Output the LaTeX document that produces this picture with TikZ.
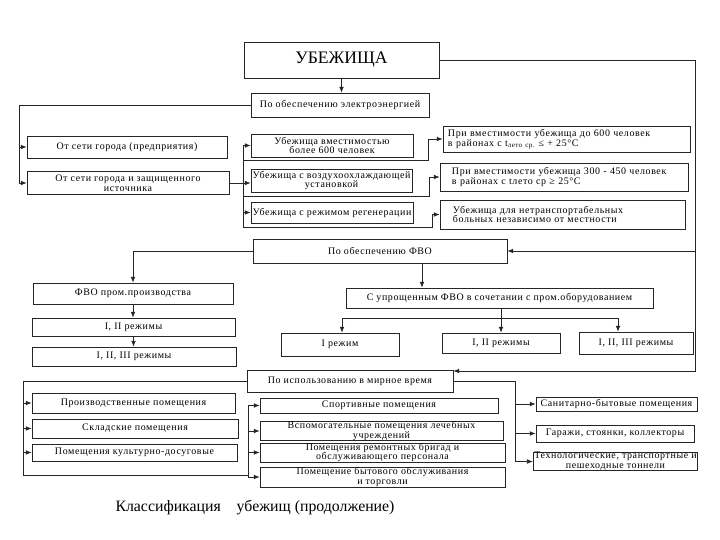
\documentclass[tikz,border=0pt]{standalone}
\usepackage{fontspec}
\setmainfont{Liberation Serif}
\newfontfamily\boxfont[LetterSpace=6]{Liberation Serif}
\usetikzlibrary{arrows.meta}

\tikzset{
  blk/.style={draw=black!85, line width=0.6pt, inner xsep=1pt, inner ysep=0pt, align=center,
    font=\boxfont\fontsize{8.5}{8.5}\selectfont},
  sz/.style 2 args={minimum width=#1*0.03cm, minimum height=#2*0.03cm},
  lnk/.style={draw=black!85, line width=0.6pt},
}

\begin{document}
\begin{tikzpicture}[x=0.03cm, y=-0.03cm, >={Latex[length=5pt,width=4pt]}]
\useasboundingbox (0,0) rectangle (720,540);

\node (ubezh) [blk,sz={195}{36},font=\fontsize{15}{18}\selectfont] at (341.5,60) {УБЕЖИЩА};
\node (elec) [blk,sz={178}{24}] at (340,105) {По обеспечению электроэнергией};
\node (gorod) [blk,sz={200}{22}] at (127,147) {От сети города (предприятия)};
\node (gorodz) [blk,sz={202}{23}] at (128,183) {От сети города и защищенного\\источника};
\node (vm600) [blk,sz={162}{23}] at (332,145.5) {Убежища вместимостью\\более 600 человек};
\node (vozd) [blk,sz={161}{23}] at (331.5,180.5) {Убежища с воздухоохлаждающей\\установкой};
\node (regen) [blk,sz={162}{21}] at (332,212.5) {Убежища с режимом регенерации};
\node (do600) [blk,sz={247}{26},align=left,text width=7.11cm] at (566.5,139) {При вместимости убежища до 600 человек\\в районах с t\textsubscript{лето ср.} ≤ + 25°C};
\node (t300) [blk,sz={248}{28},align=left,text width=6.72cm] at (564,177) {При вместимости убежища 300 - 450 человек\\в районах с tлето ср ≥ 25°C};
\node (netr) [blk,sz={245}{29},align=left,text width=6.57cm] at (562.5,214.5) {Убежища для нетранспортабельных\\больных независимо от местности};

\node (fvo) [blk,sz={254}{24}] at (380,251) {По обеспечению ФВО};
\node (prom) [blk,sz={200}{21}] at (133,293.5) {ФВО пром.производства};
\node (rl2) [blk,sz={203}{18}] at (133.5,327) {I, II режимы};
\node (rl3) [blk,sz={204}{19}] at (134,356.5) {I, II, III режимы};
\node (upr) [blk,sz={307}{20}] at (499.5,298) {С упрощенным ФВО в сочетании с пром.оборудованием};
\node (r1) [blk,sz={118}{23}] at (340,344.5) {I режим};
\node (r2) [blk,sz={118}{20}] at (501,343) {I, II режимы};
\node (r3) [blk,sz={114}{22}] at (636,343) {I, II, III режимы};

\node (mir) [blk,sz={206}{22}] at (350,381) {По использованию в мирное время};
\node (proizv) [blk,sz={203}{20}] at (133.5,403) {Производственные помещения};
\node (sklad) [blk,sz={206}{19}] at (135,428.5) {Складские помещения};
\node (kult) [blk,sz={205}{17}] at (134.5,452.5) {Помещения культурно-досуговые};
\node (sport) [blk,sz={238}{15}] at (379,405.5) {Спортивные помещения};
\node (vspom) [blk,sz={243}{18}] at (381.5,431) {Вспомогательные помещения лечебных\\учреждений};
\node (remont) [blk,sz={245}{19}] at (382.5,452.5) {Помещения ремонтных бригад и\\обслуживающего персонала};
\node (byt) [blk,sz={245}{20}] at (382.5,477) {Помещение бытового обслуживания\\и торговли};
\node (sanit) [blk,sz={161}{14}] at (616.5,404) {Санитарно-бытовые помещения};
\node (garazh) [blk,sz={158}{17}] at (615,433.5) {Гаражи, стоянки, коллекторы};
\node (tonn) [blk,sz={159}{17}] at (615.5,461.5) {Технологические, транспортные и\\пешеходные тоннели};

\node (cap) [font=\fontsize{13.5}{16}\selectfont] at (255,508) {Классификация\quad убежищ (продолжение)};

% outer loop on the right
\coordinate (rb) at (695,371);
\coordinate (rf) at (695,251);
\draw [lnk,->] (ubezh.south) -- (ubezh.south |- elec.north);
\draw [lnk,->] (ubezh.east) -| (rb) -- (rb -| mir.east);
\draw [lnk,->] (rf) -- (fvo.east);

% power supply
\coordinate (l1) at (19,183);
\draw [lnk] (elec.west) -| (l1);
\draw [lnk,->] (l1 |- gorod) -- (gorod);
\draw [lnk,->] (l1) -- (gorodz);
\draw [lnk,->] (gorodz.east) -- (gorodz.east -| vozd.west);
\coordinate (t1) at (243,227);
\coordinate (b1) at (428,160);
\coordinate (b2) at (429,196);
\coordinate (b3) at (432,227);
\draw [lnk,->] (t1) |- (vm600);
\draw [lnk,->] (t1 |- regen) -- (regen);
\draw [lnk,->] (t1 |- b1) -- (b1) |- (do600);
\draw [lnk,->] (t1 |- b2) -- (b2) |- (t300);
\draw [lnk,->] (t1) -- (b3) |- (netr);

% filter ventilation
\draw [lnk,->] (fvo.west) -| (prom);
\draw [lnk,->] (prom.south) -- (prom.south |- rl2.north);
\draw [lnk,->] (rl2.south) -- (rl2.south |- rl3.north);
\coordinate (fv) at (422,0);
\draw [lnk,->] (fvo.south -| fv) -- (upr.north -| fv);
\draw [lnk,->] (upr.south -| r2) -- (r2);
\coordinate (hl) at (342,318);
\coordinate (hr) at (618,318);
\draw [lnk] (hl) -- (hr);
\draw [lnk,->] (hl) -- (hl |- r1.north);
\draw [lnk,->] (hr) -- (hr |- r3.north);

% peacetime use
\coordinate (ml) at (23,475);
\coordinate (mt) at (248,0);
\coordinate (mr) at (515,0);
\draw [lnk] (mir.west) -| (ml) -- (ml -| mt);
\draw [lnk,->] (ml |- proizv) -- (proizv);
\draw [lnk,->] (ml |- sklad) -- (sklad);
\draw [lnk,->] (ml |- kult) -- (kult);
\draw [lnk] (mt |- sport) -- (mt |- byt);
\draw [lnk,->] (mt |- sport) -- (sport);
\draw [lnk,->] (mt |- vspom) -- (vspom);
\draw [lnk,->] (mt |- remont) -- (remont);
\draw [lnk,->] (mt |- byt) -- (byt);
\draw [lnk] (mir.east) -| (mr |- tonn);
\draw [lnk,->] (mr |- sanit) -- (sanit);
\draw [lnk,->] (mr |- garazh) -- (garazh);
\draw [lnk,->] (mr |- tonn) -- (tonn);
\end{tikzpicture}
\end{document}
